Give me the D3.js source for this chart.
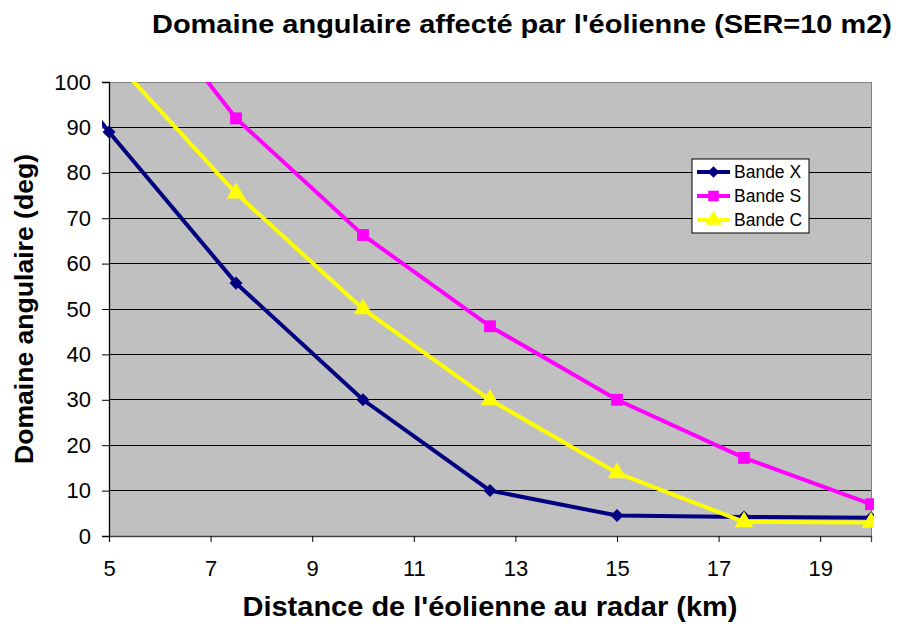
<!DOCTYPE html>
<html>
<head>
<meta charset="utf-8">
<script src="https://cdn.jsdelivr.net/npm/d3@7"></script>
<style>
  body { margin: 0; background: #fff; }
  svg text { font-family: Arial, "Liberation Sans", sans-serif; }
</style>
</head>
<body>
<div id="chart"></div>
<script>
// distances (km)
var distances = [2.5, 5, 7.5, 10, 12.5, 15, 17.5, 20];
var bandeX = [125, 89, 55.7, 30, 10, 4.5, 4.2, 4];
var bandeS = [null, 128, 92, 66.3, 46.2, 30, 17.2, 7];
var bandeC = [null, 106, 75.5, 50, 30, 13.9, 3.1, 3];
var seriesNames = ["Bande X", "Bande S", "Bande C"];
var xTicks = [5, 7, 9, 11, 13, 15, 17, 19];
var yTicks = [0, 10, 20, 30, 40, 50, 60, 70, 80, 90, 100];

var width = 903, height = 627;
var margin = {top: 82, right: 32, bottom: 91, left: 109};
var w = width - margin.left - margin.right,
    h = height - margin.top - margin.bottom;

var svg = d3.select("#chart").append("svg")
  .attr("width", width)
  .attr("height", height);

var x = d3.scaleLinear().domain([5, 20]).range([0, w]);
var y = d3.scaleLinear().domain([0, 100]).range([h, 0]);

var g = svg.append("g").attr("transform", "translate(" + margin.left + "," + margin.top + ")");

// plot background
g.append("rect").attr("width", w).attr("height", h).attr("fill", "#c0c0c0");

// gridlines
g.selectAll(".grid").data(yTicks.slice(1))
  .enter().append("line")
  .attr("x1", 0).attr("x2", w)
  .attr("y1", function(d) { return y(d); })
  .attr("y2", function(d) { return y(d); })
  .attr("stroke", function(d) { return d == 100 ? "#808080" : "#000"; })
  .attr("stroke-width", 1)
  .attr("shape-rendering", "crispEdges");

// right border
g.append("line").attr("x1", w).attr("x2", w).attr("y1", 0).attr("y2", h)
  .attr("stroke", "#808080").attr("shape-rendering", "crispEdges");

// axes
var yAxis = g.append("g")
  .call(d3.axisLeft(y).tickValues(yTicks).tickSize(7).tickPadding(11));
var xAxis = g.append("g").attr("transform", "translate(0," + h + ")")
  .call(d3.axisBottom(x).tickValues(xTicks).tickSize(6).tickPadding(18));
[xAxis, yAxis].forEach(function(a) {
  a.select(".domain").attr("stroke", "#000").attr("stroke-width", 1.3);
  a.selectAll(".tick line").attr("stroke", "#000");
  a.selectAll("text").attr("font-size", 22).attr("fill", "#000")
    .attr("font-family", "Arial, 'Liberation Sans', sans-serif");
});
xAxis.select(".domain").attr("stroke", "#404040");

// clip
g.append("clipPath").attr("id", "clip")
  .append("rect").attr("x", -7).attr("y", 0).attr("width", w + 10).attr("height", h + 10);

var colors = ["#000080", "#ff00ff", "#ffff00"];
var values = [bandeX, bandeS, bandeC];
var symbols = [d3.symbolSquare, d3.symbolSquare, d3.symbolTriangle];
var symSizes = [85, 140, 150];
var symRotate = [45, 0, 0];

var line = d3.line()
  .defined(function(d) { return d.v != null; })
  .x(function(d) { return x(d.d); })
  .y(function(d) { return y(d.v); });

var plot = g.append("g").attr("clip-path", "url(#clip)");

values.forEach(function(vals, i) {
  var pts = distances.map(function(d, k) { return {d: d, v: vals[k]}; });
  plot.append("path").datum(pts)
    .attr("d", line)
    .attr("fill", "none")
    .attr("stroke", colors[i])
    .attr("stroke-width", 4);
  plot.selectAll(".m" + i)
    .data(pts.filter(function(p) { return p.v != null && p.d >= 5 && p.v <= 100; }))
    .enter().append("path")
    .attr("transform", function(p) {
      return "translate(" + x(p.d) + "," + y(p.v) + ") rotate(" + symRotate[i] + ")";
    })
    .attr("d", d3.symbol().type(symbols[i]).size(symSizes[i]))
    .attr("fill", colors[i]);
});

// legend
var lg = svg.append("g").attr("transform", "translate(692,159)");
lg.append("rect").attr("width", 117).attr("height", 74)
  .attr("fill", "#fff").attr("stroke", "#000").attr("stroke-width", 1);
seriesNames.forEach(function(name, i) {
  var yy = 13 + i * 24;
  lg.append("line").attr("x1", 5).attr("x2", 38).attr("y1", yy).attr("y2", yy)
    .attr("stroke", colors[i]).attr("stroke-width", 4);
  lg.append("path").attr("transform", "translate(21.5," + yy + ") rotate(" + symRotate[i] + ")")
    .attr("d", d3.symbol().type(symbols[i]).size(symSizes[i] * 0.8))
    .attr("fill", colors[i]);
  lg.append("text").attr("x", 42).attr("y", yy + 6)
    .attr("font-size", 17.5).text(name);
});

// titles
svg.append("text").attr("x", 522).attr("y", 33)
  .attr("text-anchor", "middle").attr("font-size", 25).attr("font-weight", "bold")
  .attr("textLength", 740).attr("lengthAdjust", "spacingAndGlyphs")
  .text("Domaine angulaire affecté par l'éolienne (SER=10 m2)");

svg.append("text").attr("x", 490).attr("y", 616)
  .attr("text-anchor", "middle").attr("font-size", 28).attr("font-weight", "bold")
  .attr("textLength", 495).attr("lengthAdjust", "spacingAndGlyphs")
  .text("Distance de l'éolienne au radar (km)");

svg.append("text")
  .attr("transform", "translate(33," + (margin.top + h / 2) + ") rotate(-90)")
  .attr("text-anchor", "middle").attr("font-size", 25).attr("font-weight", "bold")
  .attr("textLength", 310).attr("lengthAdjust", "spacingAndGlyphs")
  .text("Domaine angulaire (deg)");
</script>
</body>
</html>
